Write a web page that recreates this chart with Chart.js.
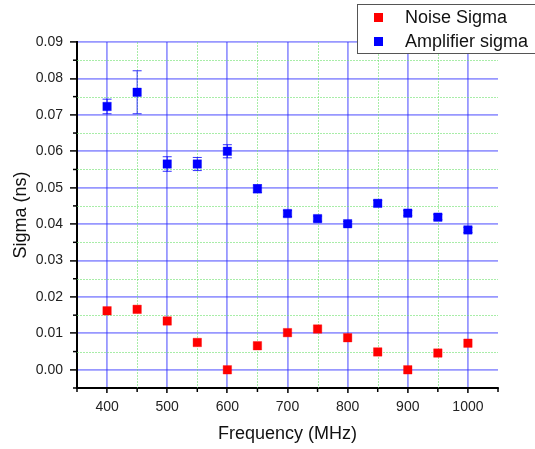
<!DOCTYPE html>
<html>
<head>
<meta charset="utf-8">
<script src="https://cdn.jsdelivr.net/npm/chart.js@4"></script>
<style>
  html, body { margin: 0; background: #fff; }
</style>
</head>
<body>
<canvas id="chart" width="535" height="449"></canvas>
<script>
// data
const freqs = [400, 450, 500, 550, 600, 650, 700, 750, 800, 850, 900, 950, 1000];
const noiseSigma = [0.0162, 0.0166, 0.0134, 0.0075, 0.0000, 0.0066, 0.0102, 0.0112, 0.0088, 0.0049, 0.0000, 0.0046, 0.0073];
const ampSigma = [0.0723, 0.0762, 0.0565, 0.0565, 0.0600, 0.0497, 0.0429, 0.0415, 0.0401, 0.0457, 0.0430, 0.0419, 0.0384];
const ampError = [0.0020, 0.0059, 0.0020, 0.0018, 0.0018, 0.0011, 0.0008, 0.0007, 0.0006, 0.0008, 0.0007, 0.0007, 0.0007];

const xTicks = [400, 500, 600, 700, 800, 900, 1000];
const xMinorTicks = [350, 450, 550, 650, 750, 850, 950, 1050];
const yTicks = [0, 0.01, 0.02, 0.03, 0.04, 0.05, 0.06, 0.07, 0.08, 0.09];
const yMinorTicks = [-0.005, 0.005, 0.015, 0.025, 0.035, 0.045, 0.055, 0.065, 0.075, 0.085];

const FONT = "'Liberation Sans', Arial, sans-serif";
const majorGrid = 'rgba(50,50,255,0.5)';
const minorGrid = 'rgba(110,225,110,0.6)';

// minor grid, minor ticks and error bars, drawn under the markers
const extrasPlugin = {
  id: 'extras',
  beforeDatasetsDraw(chart) {
    const ctx = chart.ctx;
    const x = chart.scales.x, y = chart.scales.y;
    const a = chart.chartArea;
    ctx.save();
    ctx.strokeStyle = minorGrid;
    ctx.lineWidth = 1;
    ctx.setLineDash([2, 1]);
    xMinorTicks.forEach(v => {
      if (v <= x.min || v >= x.max) return;
      const px = Math.round(x.getPixelForValue(v)) + 0.5;
      ctx.beginPath(); ctx.moveTo(px, a.top); ctx.lineTo(px, a.bottom); ctx.stroke();
    });
    yMinorTicks.forEach(v => {
      if (v <= y.min || v >= y.max) return;
      const py = Math.round(y.getPixelForValue(v)) + 0.5;
      ctx.beginPath(); ctx.moveTo(a.left, py); ctx.lineTo(a.right, py); ctx.stroke();
    });
    ctx.setLineDash([]);

    // minor ticks
    ctx.strokeStyle = '#000';
    ctx.lineWidth = 1.5;
    xMinorTicks.forEach(v => {
      const px = x.getPixelForValue(v);
      ctx.beginPath(); ctx.moveTo(px, a.bottom); ctx.lineTo(px, a.bottom + 4); ctx.stroke();
    });
    yMinorTicks.forEach(v => {
      const py = y.getPixelForValue(v);
      ctx.beginPath(); ctx.moveTo(a.left, py); ctx.lineTo(a.left - 4, py); ctx.stroke();
    });

    // error bars on the amplifier series
    ctx.strokeStyle = 'rgba(0,0,255,0.8)';
    ctx.lineWidth = 1;
    freqs.forEach((f, i) => {
      const px = x.getPixelForValue(f);
      const top = y.getPixelForValue(ampSigma[i] + ampError[i]);
      const bot = y.getPixelForValue(ampSigma[i] - ampError[i]);
      ctx.beginPath();
      ctx.moveTo(px, top); ctx.lineTo(px, bot);
      ctx.moveTo(px - 4.5, top); ctx.lineTo(px + 4.5, top);
      ctx.moveTo(px - 4.5, bot); ctx.lineTo(px + 4.5, bot);
      ctx.stroke();
    });
    ctx.restore();
  },
  afterDraw(chart) {
    // legend box in the top right corner
    const ctx = chart.ctx;
    ctx.save();
    ctx.fillStyle = '#fff';
    ctx.fillRect(357, 4, 190, 49);
    ctx.strokeStyle = '#555';
    ctx.lineWidth = 1;
    ctx.strokeRect(357.5, 4.5, 190, 49);
    const rows = [17.5, 41.5];
    chart.data.datasets.forEach((ds, i) => {
      ctx.fillStyle = ds.backgroundColor;
      ctx.fillRect(374, rows[i] - 4.5, 9, 9);
      ctx.fillStyle = '#111';
      ctx.font = '18px ' + FONT;
      ctx.textBaseline = 'middle';
      ctx.fillText(ds.label, 405, rows[i] + 0.5);
    });
    ctx.restore();
  }
};

new Chart(document.getElementById('chart'), {
  type: 'scatter',
  data: {
    datasets: [
      {
        label: 'Noise Sigma',
        data: freqs.map((f, i) => ({ x: f, y: noiseSigma[i] })),
        backgroundColor: '#ff0000',
        borderColor: 'rgba(255,0,0,0.35)',
        borderWidth: 1,
        pointStyle: 'rect',
        pointRadius: 6
      },
      {
        label: 'Amplifier sigma',
        data: freqs.map((f, i) => ({ x: f, y: ampSigma[i] })),
        backgroundColor: '#0000ff',
        borderColor: 'rgba(0,0,255,0.35)',
        borderWidth: 1,
        pointStyle: 'rect',
        pointRadius: 6
      }
    ]
  },
  options: {
    responsive: false,
    animation: false,
    layout: { padding: { top: 42, right: 37, left: 0, bottom: 0 } },
    plugins: { legend: { display: false }, tooltip: { enabled: false } },
    scales: {
      x: {
        type: 'linear',
        min: 350,
        max: 1050,
        afterBuildTicks: ax => { ax.ticks = xTicks.map(v => ({ value: v })); },
        afterFit: ax => { ax.height = 61; },
        grid: { color: majorGrid, lineWidth: 1.8, tickLength: 5, tickColor: '#000', tickWidth: 1.5 },
        border: { color: '#000', width: 2 },
        ticks: {
          padding: 6,
          color: '#222',
          font: { family: FONT, size: 14 },
          maxRotation: 0,
          callback: v => String(v)
        },
        title: {
          display: true,
          text: 'Frequency (MHz)',
          color: '#111',
          font: { family: FONT, size: 18 },
          padding: { top: 0, bottom: 4 }
        }
      },
      y: {
        min: -0.005,
        max: 0.09,
        afterBuildTicks: ax => { ax.ticks = yTicks.map(v => ({ value: v })); },
        afterFit: ax => { ax.width = 77; },
        grid: { color: majorGrid, lineWidth: 1.8, tickLength: 7, tickColor: '#000', tickWidth: 1.5 },
        border: { color: '#000', width: 2 },
        ticks: {
          padding: 7,
          color: '#222',
          font: { family: FONT, size: 14 },
          callback: v => v.toFixed(2)
        },
        title: {
          display: true,
          text: 'Sigma (ns)',
          color: '#111',
          font: { family: FONT, size: 18 },
          padding: { top: 10, bottom: 0 }
        }
      }
    }
  },
  plugins: [extrasPlugin]
});
</script>
</body>
</html>
